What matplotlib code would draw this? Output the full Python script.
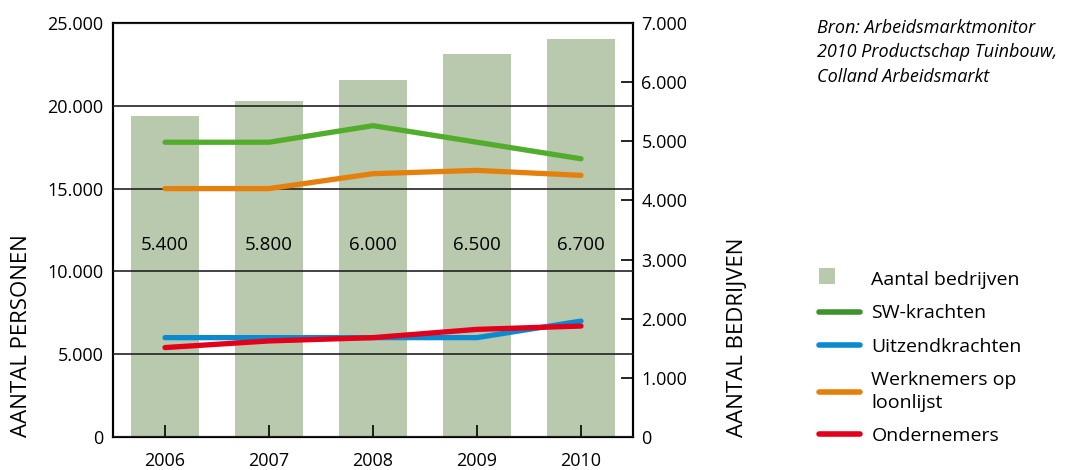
import numpy as np
import matplotlib
matplotlib.use("Agg")
from matplotlib import pyplot as plt
from matplotlib.lines import Line2D
from matplotlib.patches import Patch, Rectangle
from matplotlib.legend_handler import HandlerPatch

# gegevens
jaren = ["2006", "2007", "2008", "2009", "2010"]
bedrijven = [5430, 5680, 6040, 6480, 6730]
bedrijven_labels = ["5.400", "5.800", "6.000", "6.500", "6.700"]
sw_krachten = [17800, 17800, 18800, 17800, 16800]
uitzendkrachten = [6000, 6000, 6000, 6000, 7000]
werknemers = [15000, 15000, 15900, 16100, 15800]
ondernemers = [5400, 5800, 6000, 6500, 6700]

links_ticks = [0, 5000, 10000, 15000, 20000, 25000]
links_labels = ["0", "5.000", "10.000", "15.000", "20.000", "25.000"]
rechts_ticks = [0, 1000, 2000, 3000, 4000, 5000, 6000, 7000]
rechts_labels = ["0", "1.000", "2.000", "3.000", "4.000", "5.000", "6.000", "7.000"]

plt.rcParams['font.family'] = ['Open Sans', 'DejaVu Sans']

fig = plt.figure(figsize=(10.73, 4.70), dpi=100)
ax = fig.add_axes([113/1073, 33/470, 520/1073, 414/470])
ax2 = ax.twinx()
ax.set_zorder(ax2.get_zorder() + 1)
ax.patch.set_visible(False)

x = np.arange(len(jaren))

# staven (rechter as)
ax2.bar(x, bedrijven, width=0.66, color="#b9c9ad", zorder=1)
ax2.set_ylim(0, 7000)
ax2.set_yticks(rechts_ticks)
ax2.set_yticklabels(rechts_labels, fontsize=13)
ax2.tick_params(axis='y', direction='in', length=9, width=1.2, pad=6)

# lijnen (linker as)
lw = 3.8
ax.plot(x, sw_krachten, color="#52ad2d", lw=lw, solid_capstyle='round', zorder=4)
ax.plot(x, werknemers, color="#e5800c", lw=lw, solid_capstyle='round', zorder=4)
ax.plot(x, uitzendkrachten, color="#0a8bd0", lw=lw, solid_capstyle='round', zorder=4)
ax.plot(x, ondernemers, color="#e2001a", lw=lw, solid_capstyle='round', zorder=5)

for xi, lab in zip(x, bedrijven_labels):
    ax.text(xi, 11600, lab, ha='center', va='center', fontsize=13.5, zorder=3)

ax.set_ylim(0, 25000)
ax.set_xlim(-0.5, 4.5)
ax.set_yticks(links_ticks)
ax.set_yticklabels(links_labels, fontsize=13)
ax.tick_params(axis='y', length=0, pad=7)
ax.set_xticks(x)
ax.set_xticklabels(jaren, fontsize=13)
ax.tick_params(axis='x', direction='in', length=9, width=1.2, pad=11)
ax.grid(axis='y', color="#222222", lw=1.2, zorder=2)
ax.set_axisbelow(False)
for gl in ax.get_ygridlines():
    gl.set_zorder(2)

for s in ax.spines.values():
    s.set_linewidth(1.5)
for s in ax2.spines.values():
    s.set_linewidth(1.5)

fig.text(22/1073, 1 - 437/470, "AANTAL PERSONEN", rotation=90, ha='center', va='bottom', fontsize=16)
fig.text(737/1073, 1 - 437/470, "AANTAL BEDRIJVEN", rotation=90, ha='center', va='bottom', fontsize=16)

fig.text(817/1073, 1 - 19/470, "Bron: Arbeidsmarktmonitor\n2010 Productschap Tuinbouw,\nColland Arbeidsmarkt",
         ha='left', va='top', fontsize=13, style='italic', linespacing=1.45)


def vierkant(legend, orig_handle, xdescent, ydescent, width, height, fontsize):
    s = 11.5
    return Rectangle((-xdescent, -ydescent + (height - s) / 2 + 1.5), s, s)


handles = [
    Patch(facecolor="#b9c9ad", edgecolor='none'),
    Line2D([], [], color="#3f932c", lw=4, solid_capstyle='round'),
    Line2D([], [], color="#0a8bd0", lw=4, solid_capstyle='round'),
    Line2D([], [], color="#e5800c", lw=4, solid_capstyle='round'),
    Line2D([], [], color="#e2001a", lw=4, solid_capstyle='round'),
]
labels = ["Aantal bedrijven", "SW-krachten", "Uitzendkrachten", "Werknemers op\nloonlijst", "Ondernemers"]
leg = fig.legend(handles, labels, loc='upper left', bbox_to_anchor=(811/1073, 1 - 263/470),
                 frameon=False, fontsize=14, handlelength=2.1, handletextpad=0.6,
                 labelspacing=0.8, borderaxespad=0,
                 handler_map={Patch: HandlerPatch(patch_func=vierkant)})
for t in leg.get_texts():
    t.set_linespacing(1.3)

plt.savefig("out.png", dpi=100)
